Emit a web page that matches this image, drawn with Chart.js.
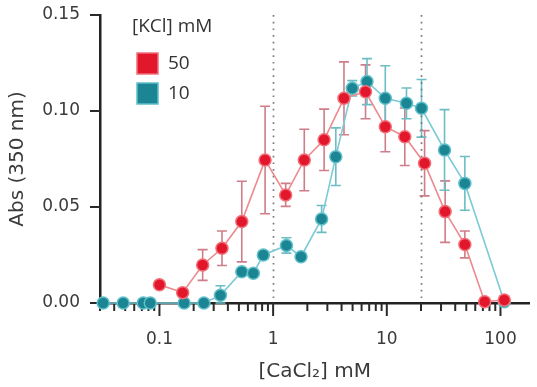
<!DOCTYPE html>
<html>
<head>
<meta charset="utf-8">
<script src="https://cdn.jsdelivr.net/npm/chart.js@4"></script>
<style>
html,body{margin:0;padding:0;background:#fff;}
canvas{display:block;}
</style>
</head>
<body>
<canvas id="c" width="537" height="387"></canvas>
<script>
// ---- data ----
const seriesLabels = ['50', '10'];
const legendTitle = '[KCl] mM';
const xTitle = '[CaCl\u2082] mM';
const yTitle = 'Abs (350 nm)';

const redX   = [0.1, 0.16, 0.24, 0.355, 0.53, 0.85, 1.29, 1.88, 2.81, 4.2, 6.5, 9.7, 14.4, 21.5, 32.6, 48.6, 72.6, 108];
const redY   = [0.0095, 0.0054, 0.0198, 0.0285, 0.0424, 0.0745, 0.0563, 0.0745, 0.085, 0.1066, 0.110, 0.0918, 0.0866, 0.0728, 0.0476, 0.0305, 0.0007, 0.0016];
const redErr = [0, 0, 0.008, 0.009, 0.021, 0.028, 0.006, 0.016, 0.016, 0.019, 0.014, 0.013, 0.015, 0.017, 0.016, 0.007, 0, 0.002];

const tealX   = [0.032, 0.048, 0.072, 0.083, 0.165, 0.246, 0.344, 0.53, 0.67, 0.82, 1.31, 1.76, 2.67, 3.56, 4.97, 6.7, 9.7, 14.9, 20.2, 32.2, 48.6, 108];
const tealY   = [0, 0, 0, 0, 0, 0, 0.004, 0.0163, 0.0155, 0.025, 0.030, 0.0241, 0.0438, 0.0762, 0.1118, 0.1153, 0.1066, 0.104, 0.1014, 0.0797, 0.0623, 0.0007];
const tealErr = [0, 0, 0, 0, 0, 0, 0.005, 0.001, 0.001, 0.002, 0.004, 0.002, 0.007, 0.015, 0.004, 0.012, 0.017, 0.008, 0.015, 0.021, 0.014, 0];

const xTickLabels = [0.1, 1, 10, 100];
const yTickValues = [0, 0.05, 0.10, 0.15];
const refLines = [1, 20];
const xMin = 0.03, xMax = 180, yMin = 0, yMax = 0.15;

// ---- styles ----
const redColor = '#e3172c', redEdge = '#f0707a', redLine = '#ec8a8e', redBar = '#cf7d88';
const tealColor = '#1b8593', tealEdge = '#5fbfca', tealLine = '#7ccad6', tealBar = '#6dbdc4';

function pts(xs, ys){ return xs.map((x,i)=>({x:x, y:ys[i]})); }

const errorBars = {
  id: 'errorBars',
  beforeDatasetsDraw(chart){
    const ctx = chart.ctx, xs = chart.scales.x, ys = chart.scales.y;
    chart.data.datasets.forEach((ds) => {
      ctx.save();
      ctx.strokeStyle = ds.errColor;
      ctx.lineWidth = 1.6;
      ds.data.forEach((p, i) => {
        const e = ds.errors[i];
        if (!e) return;
        const px = xs.getPixelForValue(p.x);
        const top = ys.getPixelForValue(p.y + e);
        const bot = ys.getPixelForValue(Math.max(0, p.y - e));
        ctx.beginPath();
        ctx.moveTo(px, top); ctx.lineTo(px, bot);
        ctx.moveTo(px - 5, top); ctx.lineTo(px + 5, top);
        ctx.moveTo(px - 5, bot); ctx.lineTo(px + 5, bot);
        ctx.stroke();
      });
      ctx.restore();
    });
  }
};

const axisDecor = {
  id: 'axisDecor',
  beforeDatasetsDraw(chart){
    const ctx = chart.ctx, xs = chart.scales.x, ys = chart.scales.y, a = chart.chartArea;
    ctx.save();
    // dotted reference lines
    ctx.strokeStyle = '#7a7a7a';
    ctx.lineWidth = 1.7;
    ctx.setLineDash([1.7, 5]);
    refLines.forEach(v => {
      const px = Math.round(xs.getPixelForValue(v)) + 0.5;
      ctx.beginPath(); ctx.moveTo(px, a.top); ctx.lineTo(px, a.bottom); ctx.stroke();
    });
    ctx.setLineDash([]);
    // x ticks (major and minor)
    ctx.strokeStyle = '#2a2a2a';
    ctx.lineWidth = 2;
    for (let d = -2; d <= 2; d++) {
      for (let m = 1; m <= 9; m++) {
        const v = m * Math.pow(10, d);
        if (v < xMin * 0.999 || v > xMax) continue;
        const px = xs.getPixelForValue(v);
        const len = (m === 1) ? 13 : 8;
        ctx.beginPath(); ctx.moveTo(px, a.bottom); ctx.lineTo(px, a.bottom + len); ctx.stroke();
      }
    }
    // y ticks
    yTickValues.forEach(v => {
      const py = ys.getPixelForValue(v);
      ctx.beginPath(); ctx.moveTo(a.left - 10, py); ctx.lineTo(a.left, py); ctx.stroke();
    });
    ctx.restore();
  }
};

const boxLegend = {
  id: 'boxLegend',
  afterDraw(chart){
    const ctx = chart.ctx;
    ctx.save();
    ctx.font = '19px "Open Sans", sans-serif';
    ctx.fillStyle = '#333';
    ctx.textBaseline = 'middle';
    ctx.textAlign = 'left';
    ctx.fillText(legendTitle, 132, 27);
    chart.data.datasets.forEach((ds, i) => {
      const y = 63 + i * 30;
      ctx.fillStyle = ds.backgroundColor;
      ctx.strokeStyle = ds.borderColor;
      ctx.lineWidth = 1.5;
      ctx.beginPath();
      ctx.rect(137, y - 10, 21, 21);
      ctx.fill(); ctx.stroke();
      ctx.fillStyle = '#333';
      ctx.fillText(ds.label, 168, y + 1);
    });
    ctx.restore();
  }
};

function noPad(s){ s.paddingLeft = 0; s.paddingRight = 0; s.paddingTop = 0; s.paddingBottom = 0; }

new Chart(document.getElementById('c'), {
  type: 'line',
  data: {
    datasets: [
      {
        label: seriesLabels[0],
        data: pts(redX, redY),
        errors: redErr,
        errColor: redBar,
        borderColor: redEdge,
        backgroundColor: redColor,
        pointBackgroundColor: redColor,
        pointBorderColor: redEdge,
        pointBorderWidth: 1.5,
        pointRadius: 6,
        showLine: true,
        borderWidth: 1.6,
        segment: { borderColor: redLine },
        clip: false,
        tension: 0
      },
      {
        label: seriesLabels[1],
        data: pts(tealX, tealY),
        errors: tealErr,
        errColor: tealBar,
        borderColor: tealEdge,
        backgroundColor: tealColor,
        pointBackgroundColor: tealColor,
        pointBorderColor: tealEdge,
        pointBorderWidth: 1.5,
        pointRadius: 6,
        showLine: true,
        borderWidth: 1.6,
        segment: { borderColor: tealLine },
        clip: false,
        tension: 0
      }
    ]
  },
  options: {
    responsive: false,
    animation: false,
    events: [],
    layout: { padding: { top: 15, right: 3, left: 0, bottom: 0 } },
    plugins: { legend: { display: false }, tooltip: { enabled: false } },
    scales: {
      x: {
        type: 'logarithmic',
        min: xMin, max: xMax,
        grid: { display: false, drawTicks: false },
        border: { display: true, color: '#222', width: 2.5 },
        afterBuildTicks(s){ s.ticks = xTickLabels.map(v => ({ value: v })); },
        afterFit(s){ s.height = 84; noPad(s); },
        ticks: {
          autoSkip: false, maxRotation: 0, padding: 26,
          color: '#3a3a3a',
          font: { family: '"DejaVu Sans", sans-serif', size: 17 },
          callback: (v) => String(v)
        },
        title: {
          display: true, text: xTitle, color: '#3a3a3a',
          font: { family: '"DejaVu Sans", sans-serif', size: 20 },
          padding: { top: 0, bottom: 3 }
        }
      },
      y: {
        min: yMin, max: yMax,
        grid: { display: false, drawTicks: false },
        border: { display: true, color: '#222', width: 2.5 },
        afterBuildTicks(s){ s.ticks = yTickValues.map(v => ({ value: v })); },
        afterFit(s){ s.width = 100; noPad(s); },
        ticks: {
          padding: 20, color: '#3a3a3a',
          font: { family: '"DejaVu Sans", sans-serif', size: 17 },
          callback: (v) => Number(v).toFixed(2)
        },
        title: {
          display: true, text: yTitle, color: '#3a3a3a',
          font: { family: '"DejaVu Sans", sans-serif', size: 20 },
          padding: { top: 6, bottom: 0 }
        }
      }
    }
  },
  plugins: [errorBars, axisDecor, boxLegend]
});
</script>
</body>
</html>
